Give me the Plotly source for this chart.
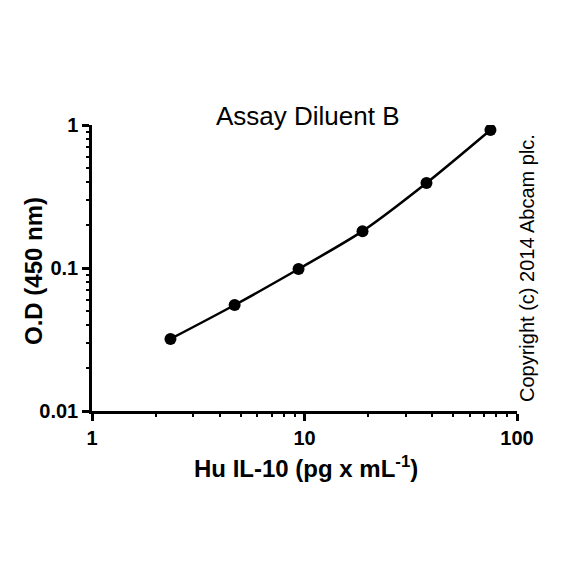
import plotly.graph_objects as go

conc = [2.34, 4.69, 9.375, 18.75, 37.5, 75]
od = [0.0319, 0.0551, 0.0984, 0.181, 0.393, 0.923]

x_ticks = [1, 10, 100]
x_ticklabels = ["1", "10", "100"]
x_minor = [2, 3, 4, 5, 6, 7, 8, 9, 20, 30, 40, 50, 60, 70, 80, 90]
y_ticks = [0.01, 0.1, 1]
y_ticklabels = ["0.01", "0.1", "1"]
y_minor = [0.02, 0.03, 0.04, 0.05, 0.06, 0.07, 0.08, 0.09,
           0.2, 0.3, 0.4, 0.5, 0.6, 0.7, 0.8, 0.9]

FONT = "Liberation Sans, Arial, sans-serif"

# page body has an 8px default margin; figure is sized to fill the rest
OFF = 8
W, H = 584 - OFF, 584 - OFF
# plot-area geometry in window pixels
L, R, T, B = 92, 517, 125, 411

fig = go.Figure()
fig.add_trace(go.Scatter(
    x=conc, y=od, mode="lines", line=dict(color="black", width=2.5, shape="spline", smoothing=0.8),
    hoverinfo="skip", showlegend=False))
fig.add_trace(go.Scatter(
    x=conc, y=od, mode="markers", marker=dict(color="black", size=12),
    showlegend=False))
# carrier trace for the minor-tick overlay axes
fig.add_trace(go.Scatter(
    x=conc, y=od, mode="markers", marker=dict(opacity=0), xaxis="x2", yaxis="y2",
    hoverinfo="skip", showlegend=False))

axis_common = dict(
    type="log", showgrid=False, zeroline=False, automargin=False,
    ticks="outside", tickcolor="black", tickmode="array",
)

fig.update_layout(
    xaxis=dict(**axis_common, range=[0, 2], tickvals=x_ticks, ticktext=x_ticklabels,
               showline=True, linecolor="black", linewidth=2.5, ticklen=7, tickwidth=2.5,
               tickfont=dict(family=FONT, size=20, color="black", weight="bold")),
    yaxis=dict(**axis_common, range=[-2, 0], tickvals=y_ticks, ticktext=y_ticklabels,
               showline=True, linecolor="black", linewidth=2.5, ticklen=7, tickwidth=2.5,
               tickfont=dict(family=FONT, size=20, color="black", weight="bold")),
    xaxis2=dict(**axis_common, range=[0, 2], tickvals=x_minor, overlaying="x", anchor="y",
                side="bottom", showline=False, ticklen=5, tickwidth=2, showticklabels=False),
    yaxis2=dict(**axis_common, range=[-2, 0], tickvals=y_minor, overlaying="y", anchor="x",
                side="left", showline=False, ticklen=5, tickwidth=2, showticklabels=False),
)

def px(xp):
    return (xp - L) / (R - L)

def py(yp):
    return (B - yp) / (B - T)

fig.add_annotation(text="Assay Diluent B", xref="paper", yref="paper",
                   x=px(308), y=py(116), showarrow=False,
                   xanchor="center", yanchor="middle",
                   font=dict(family=FONT, size=26, color="black"))
fig.add_annotation(text="<b>Hu IL-10 (pg x mL<sup>-1</sup>)</b>", xref="paper", yref="paper",
                   x=px(306), y=py(467), showarrow=False,
                   xanchor="center", yanchor="middle",
                   font=dict(family=FONT, size=24, color="black"))
fig.add_annotation(text="<b>O.D (450 nm)</b>", xref="paper", yref="paper",
                   x=px(33), y=py(271), showarrow=False, textangle=-90,
                   xanchor="center", yanchor="middle",
                   font=dict(family=FONT, size=24, color="black"))
fig.add_annotation(text="Copyright (c) 2014 Abcam plc.", xref="paper", yref="paper",
                   x=px(527), y=py(268), showarrow=False, textangle=-90,
                   xanchor="center", yanchor="middle",
                   font=dict(family=FONT, size=20, color="black"))

fig.update_layout(
    width=W, height=H,
    margin=dict(l=L - OFF, r=584 - R, t=T - OFF, b=584 - B, autoexpand=False),
    plot_bgcolor="white", paper_bgcolor="white",
)

fig.write_html("out.html")
